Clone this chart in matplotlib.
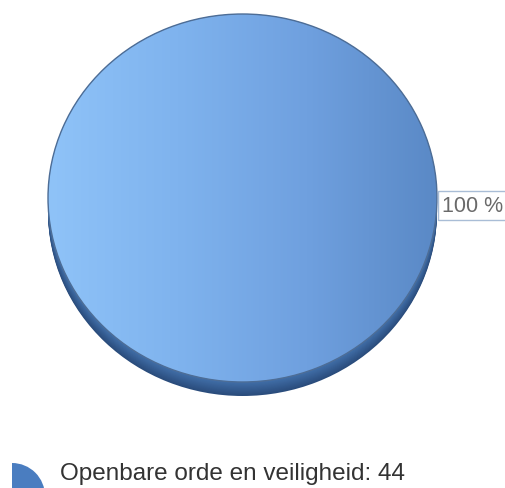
import numpy as np
import matplotlib
matplotlib.use('Agg')
import matplotlib.pyplot as plt
from matplotlib.colors import LinearSegmentedColormap
from matplotlib.patches import Wedge

plt.rcParams['font.family'] = ['Liberation Sans', 'DejaVu Sans']

# data
labels = ['Openbare orde en veiligheid']
values = [44]

W, H = 506, 489
fig = plt.figure(figsize=(W / 100, H / 100), dpi=100)

########## pie axes (face 48..437 x 15..383 px, side down to ~397) ##########
ax = fig.add_axes([48 / W, (H - 397) / H, 389 / W, 382 / H])
depth = 14 / 184.0

### side of the 3d pie, deepest first (darkest) ###
side_cols = LinearSegmentedColormap.from_list('side', ['#2a4c7c', '#4270aa'])
offs = np.linspace(depth, 0.0, 14)
for k, off in enumerate(offs):
    ax.pie(values, colors=[side_cols(k / (len(offs) - 1))], radius=1,
           center=(0, -off), startangle=90,
           wedgeprops=dict(linewidth=0))

### top face with horizontal gradient ###
face, _ = ax.pie(values, colors=['none'], radius=1, center=(0, 0),
                 startangle=90,
                 wedgeprops=dict(linewidth=1.0, edgecolor='#4d6d96'))
face_cmap = LinearSegmentedColormap.from_list(
    'face', ['#8fc3f8', '#7fb3ee', '#6fa0df', '#5a89c6'])
grad = np.linspace(0, 1, 256).reshape(1, -1)
im = ax.imshow(grad, cmap=face_cmap, extent=(-1, 1, -1, 1), aspect='auto',
               zorder=5, interpolation='bilinear')
im.set_clip_path(face[0])
face[0].set_zorder(6)

ax.set_aspect('auto')
ax.set_xlim(-1, 1)
ax.set_ylim(-1 - depth, 1)
ax.axis('off')

### percentage label ###
pct = values[0] / sum(values) * 100
ax.text(1.025, -0.04, '%d %%' % round(pct), ha='left', va='center',
        fontsize=15.5, color='#6a6a6a', zorder=10, clip_on=False,
        bbox=dict(boxstyle='square,pad=0.2', fc='white', ec='#a9bdd6', lw=1))

########## legend ##########
lax = fig.add_axes([0, 0, 1, 1], zorder=-1)
lax.set_xlim(0, W)
lax.set_ylim(H, 0)
lax.axis('off')
lax.add_patch(Wedge((12, 497), 33, 270, 360, facecolor='#4a7dc0', edgecolor='none'))
lax.text(60, 474, '%s: %d' % (labels[0], values[0]), ha='left', va='center',
         fontsize=17.5, color='#333333')

fig.savefig('out.png', dpi=100)
